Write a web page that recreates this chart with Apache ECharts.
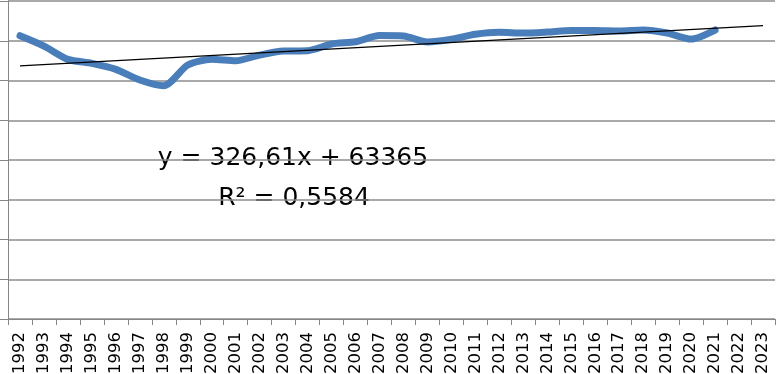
<!DOCTYPE html>
<html>
<head>
<meta charset="utf-8">
<script src="https://cdn.jsdelivr.net/npm/echarts@6/dist/echarts.min.js"></script>
<style>html,body{margin:0;padding:0;background:#fff}#c{width:776px;height:374px}</style>
</head>
<body>
<div id="c"></div>
<script>
var years = ['1992','1993','1994','1995','1996','1997','1998','1999','2000','2001','2002','2003','2004','2005','2006','2007','2008','2009','2010','2011','2012','2013','2014','2015','2016','2017','2018','2019','2020','2021','2022','2023'];
var values = [71260,68670,65320,64310,62800,60110,58670,63890,65320,64970,66400,67410,67490,69170,69750,71310,71190,69680,70360,71620,72120,71940,72190,72570,72570,72450,72700,71940,70430,72700];
var trendPoints = [['1992', 63692], ['2023', 73817]];
var equationText = 'y = 326,61x + 63365';
var r2Text = 'R² = 0,5584';

var chart = echarts.init(document.getElementById('c'));
chart.setOption({
  animation: false,
  grid: {left: 8, right: 1, top: 1, bottom: 55, containLabel: false, outerBoundsMode: 'none'},
  xAxis: {
    type: 'category',
    data: years,
    boundaryGap: true,
    axisLine: {lineStyle: {color: '#868686', width: 1}},
    axisTick: {show: true, length: 6, alignWithLabel: false, lineStyle: {color: '#868686'}},
    axisLabel: {rotate: 90, interval: 0, margin: 13, color: '#000', fontFamily: 'DejaVu Sans', fontSize: 16.5}
  },
  yAxis: {
    type: 'value',
    min: 0, max: 80000, interval: 10000,
    axisLine: {show: true, lineStyle: {color: '#868686', width: 1}},
    axisTick: {show: true, length: 8, lineStyle: {color: '#868686'}},
    axisLabel: {show: false},
    splitLine: {lineStyle: {color: '#8c8c8c', width: 1.5}}
  },
  series: [
    {
      type: 'line',
      data: values,
      smooth: 0.25,
      symbol: 'none',
      lineStyle: {color: '#4a7ebb', width: 7, cap: 'round', join: 'round'},
      z: 2
    },
    {
      type: 'line',
      data: trendPoints,
      symbol: 'none',
      lineStyle: {color: '#000', width: 1.3},
      z: 3
    }
  ],
  graphic: [
    {type: 'text', x: 293, y: 158, style: {text: equationText, fontFamily: 'DejaVu Sans', fontSize: 25, fill: '#000', align: 'center', verticalAlign: 'middle'}},
    {type: 'text', x: 294, y: 198, style: {text: r2Text, fontFamily: 'DejaVu Sans', fontSize: 25, fill: '#000', align: 'center', verticalAlign: 'middle'}}
  ]
});
</script>
</body>
</html>
